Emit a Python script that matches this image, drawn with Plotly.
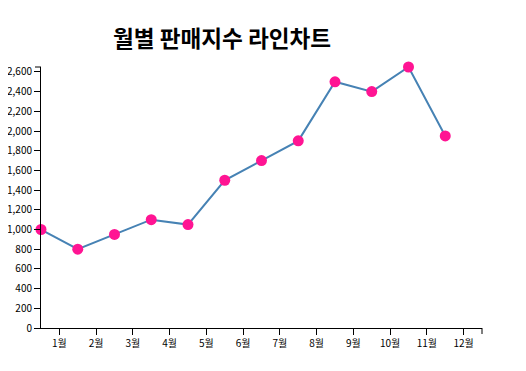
import plotly.graph_objects as go

months = ["1월", "2월", "3월", "4월", "5월", "6월", "7월", "8월", "9월", "10월", "11월", "12월"]
sales = [1000, 800, 950, 1100, 1050, 1500, 1700, 1900, 2500, 2400, 2650, 1950]
y_ticks = list(range(0, 2601, 200))

OFF = 8  # default page body margin
W, H = 526 - OFF, 371 - OFF
L, R, T, B = 41 - OFF, 44, 67 - OFF, 43
pw, ph = W - L - R, H - T - B

fig = go.Figure()
fig.add_trace(go.Scatter(
    x=list(range(len(months))), y=sales, mode="lines+markers",
    line=dict(color="#4682b4", width=2),
    marker=dict(color="#ff1493", size=11),
    hoverinfo="skip", cliponaxis=False,
))

font = "Noto Sans CJK KR, Noto Sans, sans-serif"
fig.update_layout(
    width=W, height=H, margin=dict(l=L, r=R, t=T, b=B, autoexpand=False),
    plot_bgcolor="white", paper_bgcolor="white", showlegend=False,
    font=dict(family=font, size=10, color="black"),
    title=dict(text="<b>월별 판매지수 라인차트</b>", x=(222 - OFF) / W, xanchor="center",
               y=1 - (39 - OFF) / H, yanchor="middle", font=dict(size=22.6, family=font, color="black")),
    xaxis=dict(range=[0, 12], tickmode="array", automargin=False,
               tickvals=[i + 0.5 for i in range(len(months))], ticktext=months,
               showgrid=False, zeroline=False, showline=True, linecolor="black", linewidth=1,
               ticks="outside", ticklen=6, tickcolor="black", tickfont=dict(size=10)),
    yaxis=dict(range=[0, max(sales)], tickmode="array", tickvals=y_ticks, automargin=False,
               tickformat=",", showgrid=False, zeroline=False, showline=True,
               linecolor="black", linewidth=1, ticks="outside", ticklen=6,
               tickcolor="black", tickfont=dict(size=10)),
)
# outer end ticks of the axis domains
fig.add_shape(type="line", xref="paper", yref="paper", x0=1, x1=1, y0=0, y1=-6 / ph,
              line=dict(color="black", width=1))
fig.add_shape(type="line", xref="paper", yref="paper", x0=0, x1=-6 / pw, y0=1, y1=1,
              line=dict(color="black", width=1))
fig.write_html("out.html")
